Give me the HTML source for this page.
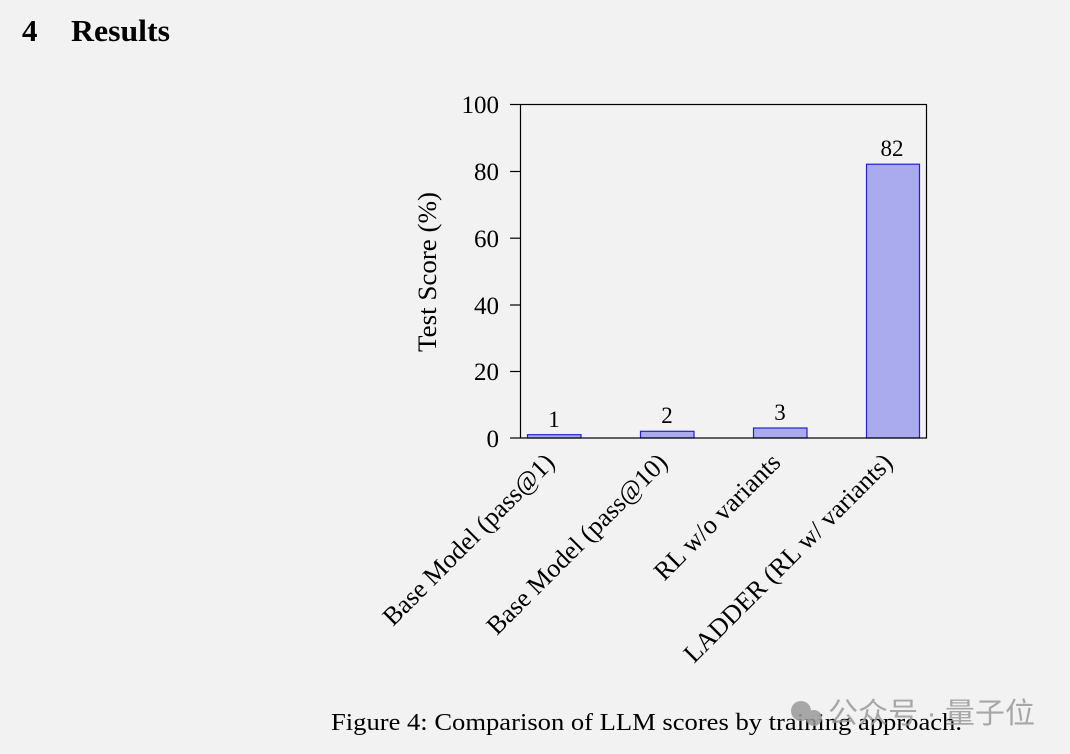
<!DOCTYPE html>
<html><head><meta charset="utf-8"><style>
html,body{margin:0;padding:0;background:#f2f2f2;}
body{width:1070px;height:754px;overflow:hidden;position:relative;font-family:"Liberation Serif",serif;}
</style></head><body>
<svg width="1070" height="754" viewBox="0 0 1070 754" xmlns="http://www.w3.org/2000/svg" style="position:absolute;left:0;top:0">
<g font-family="Liberation Serif, serif" fill="#000">
<text x="22" y="41" font-size="31" font-weight="bold">4</text>
<text x="71" y="41" font-size="31" font-weight="bold" textLength="99" lengthAdjust="spacingAndGlyphs">Results</text>
</g>
<g fill="#aaaaee" stroke="#2222cc" stroke-width="1.2">
<rect x="527.5" y="434.7" width="53.5" height="3.3"/>
<rect x="640.5" y="431.3" width="53.5" height="6.7"/>
<rect x="753.5" y="428" width="53.5" height="10"/>
<rect x="866.5" y="164.2" width="53" height="273.8"/>
</g>
<rect x="520.5" y="104.5" width="406" height="333.5" fill="none" stroke="#000" stroke-width="1.2"/>
<g stroke="#000" stroke-width="1.2">
<line x1="510" y1="104.5" x2="520" y2="104.5"/>
<line x1="510" y1="171.5" x2="520" y2="171.5"/>
<line x1="510" y1="238.2" x2="520" y2="238.2"/>
<line x1="510" y1="305" x2="520" y2="305"/>
<line x1="510" y1="371.5" x2="520" y2="371.5"/>
<line x1="510" y1="438" x2="520" y2="438"/>
</g>
<g font-family="Liberation Serif, serif" font-size="25" text-anchor="end" fill="#000">
<text x="499" y="113">100</text>
<text x="499" y="180">80</text>
<text x="499" y="247">60</text>
<text x="499" y="314">40</text>
<text x="499" y="380">20</text>
<text x="499" y="447">0</text>
</g>
<g font-family="Liberation Serif, serif" font-size="23" text-anchor="middle" fill="#000">
<text x="554" y="427">1</text>
<text x="667" y="423">2</text>
<text x="780" y="420">3</text>
<text x="892" y="156">82</text>
</g>
<text transform="translate(436,272) rotate(-90)" font-family="Liberation Serif, serif" font-size="26" text-anchor="middle" textLength="160" lengthAdjust="spacingAndGlyphs">Test Score (%)</text>
<g font-family="Liberation Serif, serif" font-size="26" text-anchor="end" fill="#000">
<text transform="translate(556,464) rotate(-45)">Base Model (pass@1)</text>
<text transform="translate(669,464) rotate(-45)">Base Model (pass@10)</text>
<text transform="translate(782,464) rotate(-45)">RL w/o variants</text>
<text transform="translate(894,464) rotate(-45)">LADDER (RL w/ variants)</text>
</g>
<text x="331" y="730" font-family="Liberation Serif, serif" font-size="24" textLength="631" lengthAdjust="spacingAndGlyphs">Figure 4: Comparison of LLM scores by training approach.</text>
<g fill="#9a9a9a" opacity="0.85">
<circle cx="801" cy="711" r="10"/><circle cx="814" cy="718" r="8"/>
<text x="828" y="723" font-family="Liberation Sans, Noto Sans CJK SC, sans-serif" font-size="29" textLength="207" lengthAdjust="spacingAndGlyphs">公众号 · 量子位</text>
</g>
</svg>
</body></html>
